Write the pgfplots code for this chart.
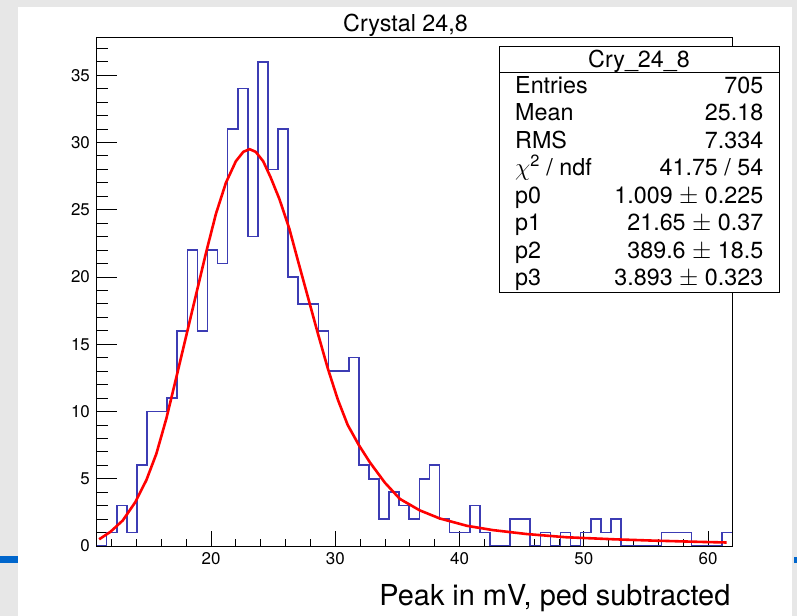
\documentclass[border=0pt]{standalone}
\usepackage{pgfplots}
\pgfplotsset{compat=1.18}
\usepackage{fontspec}
\setmainfont{TeX Gyre Heros}
\definecolor{bggray}{RGB}{231,231,231}
\definecolor{slideblue}{RGB}{0,102,204}
\definecolor{histblue}{RGB}{60,60,180}
\pgfplotstableread{
x y
10.793 0
11.602 1
12.413 3
13.225 1
14.037 6
14.849 10
15.660 10
16.472 11
17.284 16
18.095 22
18.907 16
19.719 22
20.530 21
21.342 31
22.154 34
22.966 23
23.777 36
24.589 28
25.401 31
26.212 20
27.024 18
27.836 18
28.647 16
29.459 13
30.271 13
31.083 14
31.894 6
32.706 5
33.518 2
34.329 4
35.141 3
35.953 2
36.764 5
37.576 6
38.388 2
39.200 1
40.011 1
40.823 3
41.635 1
42.446 0
43.258 0
44.070 2
44.881 2
45.693 0
46.505 1
47.317 0
48.128 1
48.940 0
49.752 1
50.563 2
51.375 1
52.187 2
52.998 0
53.810 0
54.622 0
55.434 0
56.245 1
57.057 1
57.869 1
58.680 0
59.492 0
60.304 0
61.115 1
61.930 1
}\histdata
\pgfplotstableread{
x y
11.0 0.50
11.9 1.05
12.9 1.90
13.9 3.25
14.8 4.90
15.6 6.85
16.4 9.45
17.2 12.5
18.0 15.6
18.8 18.7
19.6 21.8
20.4 24.7
21.2 27.0
22.0 28.6
22.6 29.3
23.1 29.5
23.6 29.3
24.2 28.6
24.8 27.4
25.5 25.8
26.3 23.6
27.0 21.2
27.8 18.5
28.6 15.8
29.4 13.2
30.2 10.9
31.0 9.0
31.9 7.5
32.8 6.2
34.0 4.7
35.2 3.5
36.8 2.65
38.4 2.05
40.6 1.50
42.7 1.18
45.4 0.89
48.6 0.65
52.4 0.50
55.6 0.40
59.6 0.30
61.5 0.26
}\fitdata
\newcommand{\statrow}[3]{%
  \node[anchor=base west, inner sep=0pt] at (515bp,#1bp) {#2};
  \node[anchor=base east, inner sep=0pt] at (763.5bp,#1bp) {#3};}
\begin{document}
\begin{tikzpicture}
\fill[bggray] (0bp,0bp) rectangle (797bp,616bp);
\fill[white] (18bp,0bp) rectangle (792bp,609bp);
\fill[slideblue] (0bp,53bp) rectangle (17.5bp,60bp);
\fill[slideblue] (794bp,53bp) rectangle (797bp,59bp);
\begin{axis}[
  at={(96.6bp,70bp)}, anchor=south west,
  scale only axis, width=635.4bp, height=508.5bp,
  xmin=10.793, xmax=61.93, ymin=0, ymax=37.8,
  axis line style={black, line width=0.9bp},
  tick align=inside, tick pos=left,
  xtick={20,30,40,50,60}, minor xtick={12,14,...,60},
  ytick={0,5,...,35}, minor ytick={1,2,...,37},
  xtick style={black, line width=0.8bp, /pgfplots/major tick length=15bp, /pgfplots/minor tick length=7bp},
  minor x tick style={black, line width=0.8bp, /pgfplots/minor tick length=7bp},
  ytick style={black, line width=0.8bp, /pgfplots/major tick length=20bp, /pgfplots/minor tick length=11bp},
  minor y tick style={black, line width=0.8bp, /pgfplots/minor tick length=11bp},
  tick label style={font=\fontsize{17}{20}\selectfont, /pgf/number format/assume math mode=true},
  xticklabel style={anchor=north, inner sep=0pt, yshift=-6.5bp},
  yticklabel style={anchor=east, inner sep=0pt, xshift=-6.5bp},
]
\addplot[const plot, histblue, line width=1.6bp] table[x=x,y=y] {\histdata};
\addplot[red, line width=2.6bp, line join=round] table[x=x,y=y] {\fitdata};
\end{axis}
\draw[line width=0.9bp, fill=white] (499bp,324bp) rectangle (779bp,570bp);
\draw[line width=0.9bp] (499bp,544bp) -- (779bp,544bp);
\begin{scope}[font=\fontsize{23.4}{28}\selectfont]
\node[anchor=base, inner sep=0pt] at (639bp,548bp) {Cry\_24\_8};
\statrow{522.5}{Entries}{705}
\statrow{495}{Mean}{25.18}
\statrow{467.5}{RMS}{7.334}
\statrow{440}{$\chi$\textsuperscript{2} / ndf}{41.75 / 54}
\statrow{412.5}{p0}{1.009 $\pm$ 0.225}
\statrow{385}{p1}{21.65 $\pm$ 0.37}
\statrow{357.5}{p2}{389.6 $\pm$ 18.5}
\statrow{330}{p3}{3.893 $\pm$ 0.323}
\end{scope}
\node[anchor=base, inner sep=0pt, font=\fontsize{23.4}{28}\selectfont] at (405.5bp,584.3bp) {Crystal 24,8};
\node[anchor=base east, inner sep=0pt, font=\fontsize{29}{34}\selectfont] at (730.5bp,11bp) {Peak in mV, ped subtracted};
\end{tikzpicture}
\end{document}
